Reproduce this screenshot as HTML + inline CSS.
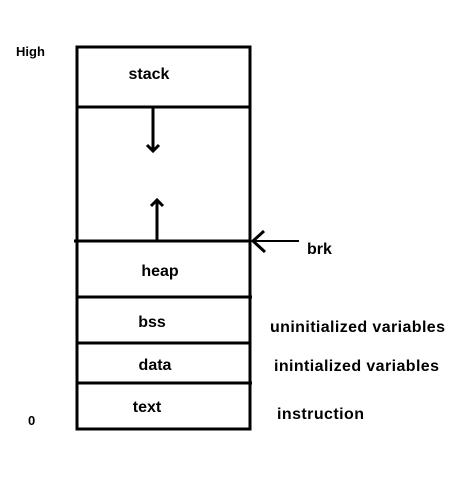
<!DOCTYPE html>
<html><head><meta charset="utf-8"><style>
html,body{margin:0;padding:0;background:#fff;width:460px;height:482px;overflow:hidden}
text{font-family:"Liberation Sans",sans-serif;font-weight:bold;fill:#000}
</style></head><body>
<svg width="460" height="482" viewBox="0 0 460 482">
<g stroke="#000" stroke-width="3" fill="none">
<rect x="77" y="47" width="173" height="382"/>
<line x1="77" y1="107" x2="250" y2="107"/>
<line x1="74" y1="241" x2="250" y2="241"/>
<line x1="77" y1="297" x2="252" y2="297"/>
<line x1="77" y1="343" x2="250" y2="343"/>
<line x1="77" y1="383" x2="252" y2="383"/>
<g>
<line x1="153" y1="107" x2="153" y2="151"/>
<polyline points="147,145 153,151 159,145"/>
</g>
<g>
<line x1="157" y1="241" x2="157" y2="200"/>
<polyline points="151,206 157,200 163,206"/>
</g>
<g>
<line x1="252" y1="241" x2="299" y2="241" stroke-width="2"/>
<polyline points="264,231 253,241 265,252"/>
</g>
</g>
<text x="16" y="56" font-size="13">High</text>
<text x="28" y="425" font-size="13">0</text>
<text x="149" y="79" font-size="16" text-anchor="middle">stack</text>
<text x="160" y="276" font-size="16" text-anchor="middle">heap</text>
<text x="152" y="327" font-size="16" text-anchor="middle">bss</text>
<text x="155" y="370" font-size="16" text-anchor="middle">data</text>
<text x="147" y="412" font-size="16" text-anchor="middle">text</text>
<text x="307" y="254" font-size="16">brk</text>
<text x="270" y="332" font-size="16" textLength="175">uninitialized variables</text>
<text x="274" y="371" font-size="16" textLength="165">inintialized variables</text>
<text x="277" y="419" font-size="16" textLength="87">instruction</text>
</svg>
</body></html>
